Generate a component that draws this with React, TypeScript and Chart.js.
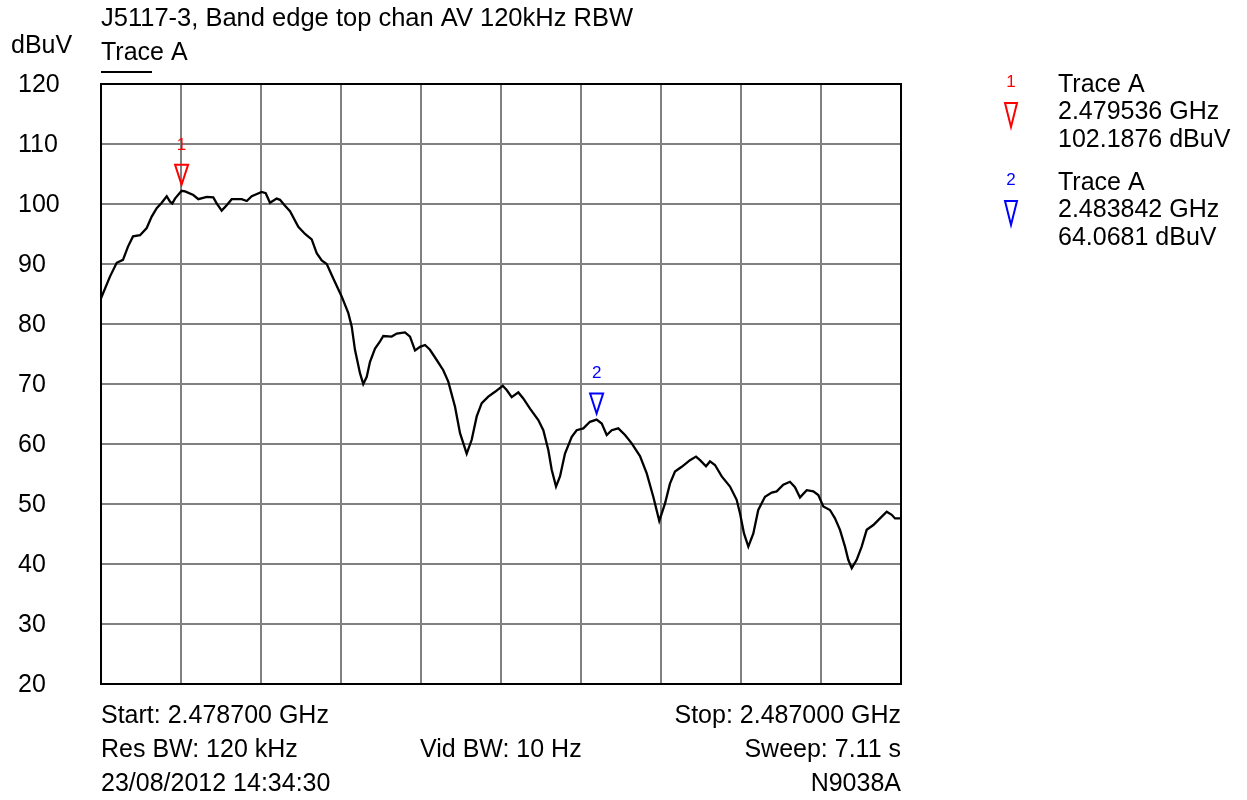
import React, { useEffect, useRef } from "react";
import { Chart, registerables } from "chart.js";

Chart.register(...registerables);

// ---- data ----
const START_MHZ = 2478.7;
const STOP_MHZ = 2487.0;

const freqsMHz = [
  2478.700, 2478.793, 2478.863, 2478.928, 2478.980, 2479.032, 2479.105, 2479.174, 2479.226, 2479.278,
  2479.330, 2479.382, 2479.416, 2479.440, 2479.468, 2479.536, 2479.572, 2479.658, 2479.710, 2479.797,
  2479.865, 2479.900, 2479.952, 2480.004, 2480.056, 2480.160, 2480.212, 2480.264, 2480.367, 2480.409,
  2480.453, 2480.523, 2480.557, 2480.609, 2480.661, 2480.747, 2480.817, 2480.886, 2480.938, 2480.990,
  2481.042, 2481.110, 2481.197, 2481.266, 2481.301, 2481.335, 2481.387, 2481.421, 2481.457, 2481.491,
  2481.543, 2481.595, 2481.629, 2481.716, 2481.768, 2481.854, 2481.906, 2481.958, 2482.010, 2482.062,
  2482.113, 2482.183, 2482.251, 2482.303, 2482.373, 2482.425, 2482.494, 2482.546, 2482.598, 2482.650,
  2482.718, 2482.788, 2482.868, 2482.909, 2482.961, 2483.030, 2483.081, 2483.151, 2483.237, 2483.289,
  2483.341, 2483.376, 2483.421, 2483.462, 2483.514, 2483.584, 2483.635, 2483.704, 2483.773, 2483.842,
  2483.895, 2483.947, 2483.999, 2484.067, 2484.137, 2484.206, 2484.292, 2484.362, 2484.430, 2484.492,
  2484.552, 2484.603, 2484.655, 2484.725, 2484.811, 2484.873, 2484.915, 2484.977, 2485.018, 2485.070,
  2485.140, 2485.226, 2485.295, 2485.330, 2485.371, 2485.416, 2485.468, 2485.519, 2485.589, 2485.659,
  2485.710, 2485.779, 2485.848, 2485.900, 2485.952, 2486.022, 2486.090, 2486.142, 2486.194, 2486.263,
  2486.315, 2486.367, 2486.419, 2486.453, 2486.489, 2486.540, 2486.592, 2486.644, 2486.713, 2486.782,
  2486.852, 2486.904, 2486.938, 2487.000,
];

const levelsDbuv = [
  84.3, 87.9, 90.2, 90.7, 92.9, 94.6, 94.8, 96.0, 97.9, 99.3,
  100.2, 101.3, 100.4, 100.1, 100.9, 102.19, 102.1, 101.5, 100.8, 101.2,
  101.1, 100.1, 98.9, 99.8, 100.8, 100.8, 100.5, 101.3, 102.0, 101.8,
  100.2, 100.9, 100.7, 99.7, 98.8, 96.2, 95.0, 94.1, 91.8, 90.6,
  90.0, 87.6, 84.6, 81.8, 79.6, 75.7, 71.8, 70.0, 71.2, 73.7,
  75.9, 77.1, 78.0, 77.9, 78.4, 78.6, 77.9, 75.6, 76.2, 76.5,
  75.7, 74.0, 72.3, 70.4, 66.2, 61.8, 58.4, 60.7, 64.6, 66.8,
  67.9, 68.7, 69.7, 69.0, 67.8, 68.6, 67.6, 65.9, 64.0, 62.3,
  59.0, 55.7, 52.9, 54.6, 58.4, 61.2, 62.3, 62.6, 63.7, 64.07,
  63.4, 61.5, 62.3, 62.6, 61.5, 60.1, 58.0, 55.1, 51.2, 47.2,
  50.1, 53.4, 55.4, 56.2, 57.3, 57.9, 57.3, 56.3, 57.1, 56.5,
  54.6, 52.9, 50.7, 48.4, 45.1, 42.9, 45.1, 49.0, 51.2, 51.9,
  52.1, 53.2, 53.7, 52.8, 51.1, 52.3, 52.1, 51.5, 49.6, 49.0,
  47.6, 45.7, 42.9, 40.7, 39.3, 40.7, 42.9, 45.7, 46.5, 47.6,
  48.7, 48.2, 47.6, 47.6,
];

const yTickValues = [20, 30, 40, 50, 60, 70, 80, 90, 100, 110, 120];
const xGridMHz = [
  2478.70, 2479.53, 2480.36, 2481.19, 2482.02, 2482.85,
  2483.68, 2484.51, 2485.34, 2486.17, 2487.00,
];

const markerLabels = ["1", "2"];
const markerFreqsMHz = [2479.536, 2483.842];
const markerLevels = [102.1876, 64.0681];
const markerColors = ["#ff0000", "#0000ff"];
const markerLegendLines = [
  ["Trace A", "2.479536 GHz", "102.1876 dBuV"],
  ["Trace A", "2.483842 GHz", "64.0681 dBuV"],
];

const titleText = "J5117-3, Band edge top chan AV 120kHz RBW";
const unitText = "dBuV";
const traceName = "Trace A";
const footerLeft = ["Start: 2.478700 GHz", "Res BW: 120 kHz", "23/08/2012 14:34:30"];
const footerMid = ["", "Vid BW: 10 Hz", ""];
const footerRight = ["Stop: 2.487000 GHz", "Sweep: 7.11 s", "N9038A"];

const FONT = "'Liberation Sans', Arial, sans-serif";

const annotationPlugin = {
  id: "specAnnotations",
  afterDatasetsDraw(chart: any) {
    const ctx = chart.ctx;
    const area = chart.chartArea;
    const xs = chart.scales.x;
    const ys = chart.scales.y;
    ctx.save();
    // plot frame
    ctx.strokeStyle = "#000";
    ctx.lineWidth = 2;
    ctx.strokeRect(area.left, area.top, area.right - area.left, area.bottom - area.top);

    // markers on trace
    for (let i = 0; i < markerFreqsMHz.length; i++) {
      const px = xs.getPixelForValue(markerFreqsMHz[i]);
      const py = ys.getPixelForValue(markerLevels[i]);
      const apex = py - 6;
      const h = 20;
      const w = 13;
      ctx.strokeStyle = markerColors[i];
      ctx.lineWidth = 2;
      ctx.beginPath();
      ctx.moveTo(px - w / 2, apex - h);
      ctx.lineTo(px + w / 2, apex - h);
      ctx.lineTo(px, apex);
      ctx.closePath();
      ctx.stroke();
      ctx.fillStyle = markerColors[i];
      ctx.font = `17px ${FONT}`;
      ctx.textAlign = "center";
      ctx.textBaseline = "middle";
      ctx.fillText(markerLabels[i], px, apex - h - 20);
    }
    ctx.restore();
  },
  afterDraw(chart: any) {
    const ctx = chart.ctx;
    const area = chart.chartArea;
    ctx.save();
    ctx.fillStyle = "#000";
    ctx.textBaseline = "middle";
    ctx.font = `25.5px ${FONT}`;
    ctx.textAlign = "left";
    ctx.fillText(titleText, area.left, 19);
    ctx.font = `25px ${FONT}`;
    ctx.fillText(unitText, 11, 46);
    ctx.fillText(traceName, area.left, 53);
    ctx.strokeStyle = "#000";
    ctx.lineWidth = 2;
    ctx.beginPath();
    ctx.moveTo(area.left, 72);
    ctx.lineTo(area.left + 51, 72);
    ctx.stroke();

    const rowY = [716, 750, 784];
    for (let r = 0; r < 3; r++) {
      ctx.textAlign = "left";
      ctx.fillText(footerLeft[r], area.left, rowY[r]);
      if (footerMid[r]) ctx.fillText(footerMid[r], 420, rowY[r]);
      ctx.textAlign = "right";
      ctx.fillText(footerRight[r], area.right, rowY[r]);
    }

    // marker table (right side)
    const blockTop = [85, 183];
    for (let i = 0; i < markerLegendLines.length; i++) {
      const t = blockTop[i];
      ctx.fillStyle = markerColors[i];
      ctx.font = `17px ${FONT}`;
      ctx.textAlign = "center";
      ctx.fillText(markerLabels[i], 1011, t - 3);
      ctx.strokeStyle = markerColors[i];
      ctx.lineWidth = 2;
      ctx.beginPath();
      ctx.moveTo(1005, t + 18);
      ctx.lineTo(1017, t + 18);
      ctx.lineTo(1011, t + 42);
      ctx.closePath();
      ctx.stroke();
      ctx.fillStyle = "#000";
      ctx.font = `25px ${FONT}`;
      ctx.textAlign = "left";
      markerLegendLines[i].forEach((line, k) => {
        ctx.fillText(line, 1058, t + k * 27.5);
      });
    }
    ctx.restore();
  },
};

export default function App() {
  const ref = useRef<HTMLCanvasElement | null>(null);
  useEffect(() => {
    if (!ref.current) return;
    const points = freqsMHz.map((f, i) => ({ x: f, y: levelsDbuv[i] }));
    const chart = new Chart(ref.current, {
      type: "line",
      data: {
        datasets: [
          {
            label: traceName,
            data: points,
            borderColor: "#000",
            borderWidth: 2.3,
            pointRadius: 0,
            tension: 0,
            fill: false,
          },
        ],
      },
      options: {
        responsive: false,
        animation: false,
        devicePixelRatio: 1,
        layout: { padding: { left: 18, top: 84, right: 346, bottom: 116 } },
        plugins: {
          legend: { display: false },
          tooltip: { enabled: false },
          title: { display: false },
        },
        scales: {
          x: {
            type: "linear",
            min: START_MHZ,
            max: STOP_MHZ,
            afterBuildTicks: (s: any) => {
              s.ticks = xGridMHz.map((v) => ({ value: v }));
            },
            afterFit: (s: any) => {
              s.height = 0;
            },
            ticks: { display: false },
            grid: { color: "#808080", lineWidth: 2, drawTicks: false },
            border: { display: false },
          },
          y: {
            type: "linear",
            min: 20,
            max: 120,
            afterBuildTicks: (s: any) => {
              s.ticks = yTickValues.map((v) => ({ value: v }));
            },
            afterFit: (s: any) => {
              s.width = 83;
            },
            ticks: {
              crossAlign: "far",
              color: "#000",
              font: { family: FONT, size: 25 },
              padding: 0,
              labelOffset: 1,
              callback: (v: any) => String(v),
            },
            grid: { color: "#808080", lineWidth: 2, drawTicks: false },
            border: { display: false },
          },
        },
      },
      plugins: [annotationPlugin],
    });
    return () => chart.destroy();
  }, []);
  return (
    <div style={{ position: "absolute", left: 0, top: 0, width: 1247, height: 800, background: "#fff" }}>
      <canvas ref={ref} width={1247} height={800} style={{ width: 1247, height: 800, display: "block" }} />
    </div>
  );
}
